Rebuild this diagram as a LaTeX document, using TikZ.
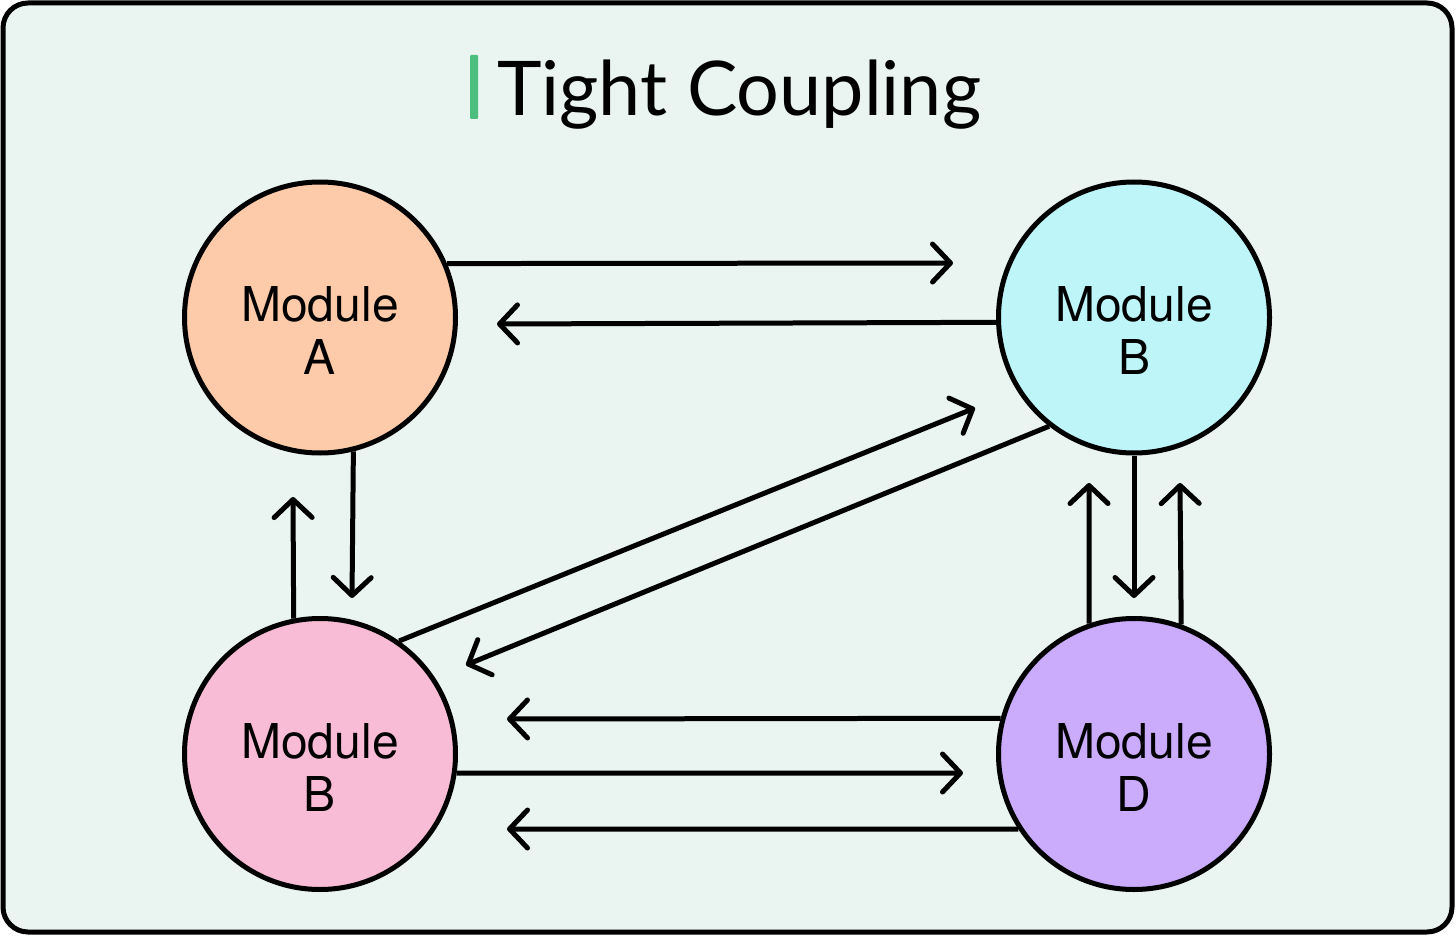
\documentclass[tikz,border=0pt]{standalone}
\usepackage{fontspec}
\setmainfont{TeX Gyre Heros}
\newfontfamily\titlefont{Lato}
\usetikzlibrary{arrows.meta}
\definecolor{bg}{HTML}{EAF4F0}
\definecolor{peach}{HTML}{FDCBA9}
\definecolor{cyanm}{HTML}{BEF5F9}
\definecolor{pinkm}{HTML}{F9BCD6}
\definecolor{purplem}{HTML}{CBABFB}
\definecolor{greenbar}{HTML}{4CBF7F}
\begin{document}
\begin{tikzpicture}[x=1pt,y=-1pt,
  module/.style={circle,draw=black,line width=5pt,minimum size=271pt,inner sep=0pt},
  lab/.style={font=\fontsize{48}{53}\selectfont,align=center,yshift=-13pt},
  conn/.style={line width=5pt,-{Straight Barb[length=18pt,width=38pt,round]}}]
\useasboundingbox (0,0) rectangle (1456,936);
\draw[fill=bg,line width=5pt,rounded corners=25pt] (3,3) rectangle (1452,932);
% title
\fill[greenbar,rounded corners=1pt] (470,55) rectangle (478,119);
\node[anchor=base west,inner sep=0pt,font=\titlefont\fontsize{75.5}{90}\selectfont] (title) at (497,116) {Tight Coupling};
% modules
\node[module,fill=peach,label={[lab]center:Module\\A}] (A) at (320,317.5) {};
\node[module,fill=cyanm,label={[lab]center:Module\\B}] (B) at (1134,317.5) {};
\node[module,fill=pinkm,label={[lab]center:Module\\B}] (C) at (320,754) {};
\node[module,fill=purplem,label={[lab]center:Module\\D}] (D) at (1134,754) {};
% free tip ends
\coordinate (t1) at (953,263);
\coordinate (t2) at (497,324);
\coordinate (t3) at (352,598);
\coordinate (t4) at (293,497);
\coordinate (t5) at (975,408);
\coordinate (t6) at (466,665);
\coordinate (t7) at (507,719);
\coordinate (t8) at (963,773);
\coordinate (t9) at (507,829);
\coordinate (t10) at (1134,598);
\coordinate (t11) at (1089,483);
\coordinate (t12) at (1180,483);
% connectors
\draw[conn] (A.23.7) -- (t1);
\draw[conn] (B.182.75) -- (t2);
\draw[conn] (A.-76.3) -- (t3);
\draw[conn] (C.101.5) -- (t4);
\draw[conn] (C.55.6) -- (t5);
\draw[conn] (B.232) -- (t6);
\draw[conn] (D.165) -- (t7);
\draw[conn] (C.-8) -- (t8);
\draw[conn] (D.213.6) -- (t9);
\draw[conn] (B.south) -- (t10);
\draw[conn] (D.109.4) -- (t11);
\draw[conn] (D.70.15) -- (t12);
\end{tikzpicture}
\end{document}
